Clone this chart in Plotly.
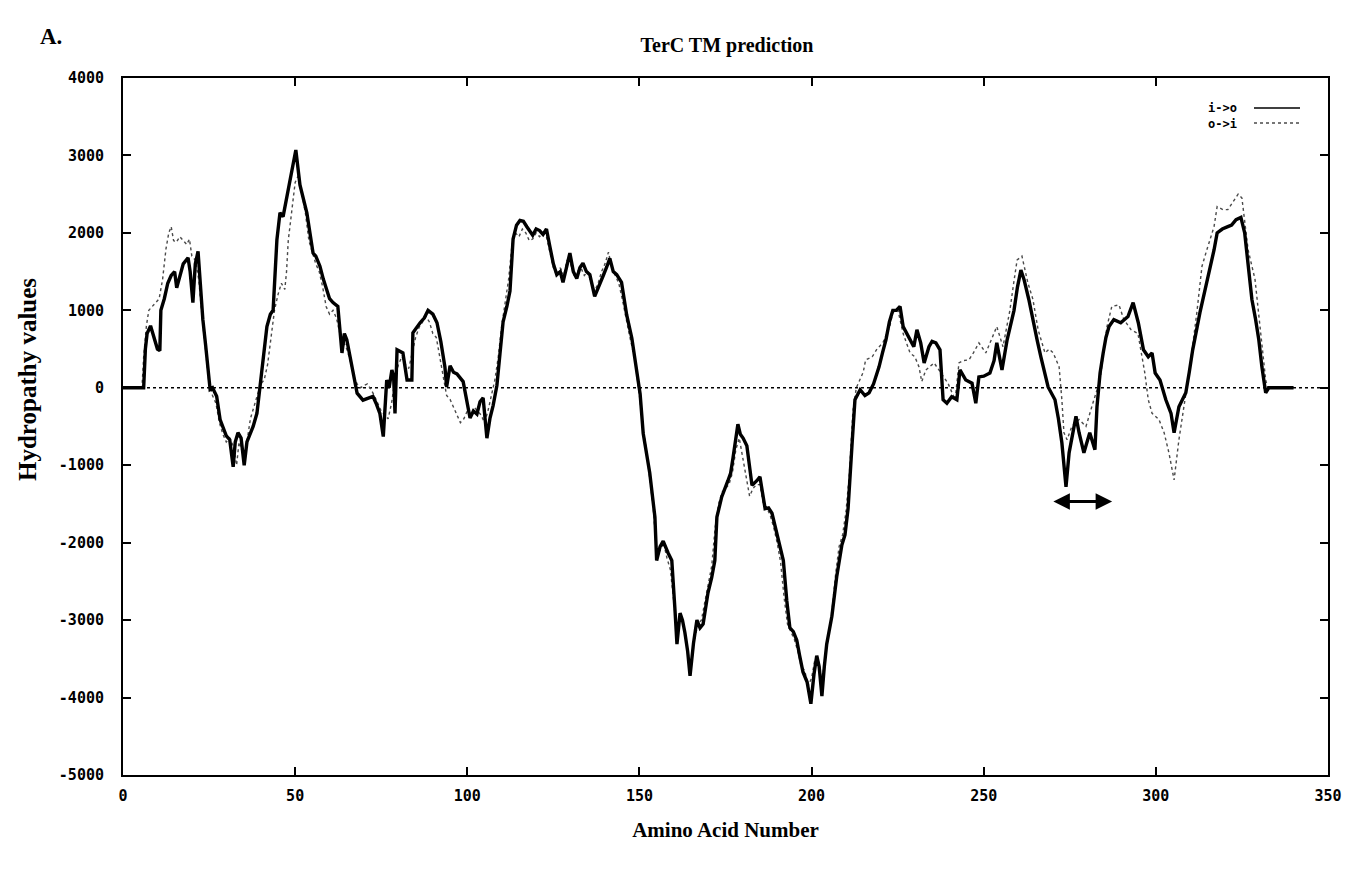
import plotly.graph_objects as go

# i->o (solid) : amino acid position, hydropathy value
io_aa = [0, 6, 6.5, 7, 8, 9, 10, 10.7, 11, 12, 13, 14, 15, 15.6, 16.5, 17.5, 18.9, 19.5, 20.3, 21, 21.8, 22.5, 23.2, 24, 24.7, 25.3, 26, 27.2, 28.2, 29, 30, 31, 32, 32.6, 33.4, 34.3, 35.2, 36, 37, 37.8, 38.9, 39.8, 40.8, 41.8, 42.8, 43.6, 44.7, 45.6, 46.5, 47.6, 48.5, 49.4, 50.2, 51.4, 52.4, 53.4, 54.3, 55.2, 56, 57.2, 58.2, 59.2, 60, 61, 62.4, 63.6, 64.3, 65, 65.9, 67, 68, 69.7, 71, 72.6, 73.5, 74.6, 75.6, 76.6, 77.3, 78.1, 78.6, 79, 79.6, 81.3, 82.5, 83.9, 84.2, 85.3, 86.3, 87.5, 88.6, 90, 91.2, 92.3, 93.5, 94, 95, 96, 97, 98.8, 100, 100.8, 101.8, 102.8, 103.7, 104.6, 105.7, 106.6, 107.5, 108.6, 109.5, 110.4, 111.5, 112.4, 113.3, 114.3, 115.3, 116.3, 117.3, 119, 120, 121, 122, 123, 124, 125, 126, 127, 127.8, 128.8, 129.8, 130.8, 131.8, 132.7, 133.6, 134.6, 135.6, 137, 138.5, 139.5, 140.5, 141.4, 142.4, 143.4, 144.8, 146.3, 147.8, 149.2, 150.2, 151.1, 152, 153, 154.5, 155, 156, 156.9, 158.3, 159.4, 160.3, 160.9, 161.8, 162.5, 163.2, 164, 164.7, 165.7, 166.7, 167.6, 168.5, 169.9, 171, 171.9, 172.5, 173.9, 175.7, 176.5, 177.2, 178.6, 179.3, 180.1, 181.2, 182.7, 184.1, 185, 186.5, 187.5, 188.5, 190.3, 191.8, 192.8, 193.7, 194.7, 195.7, 196.5, 197.5, 198.7, 199.8, 200.7, 201.5, 202.2, 203, 203.7, 204.4, 205.9, 207.3, 208.8, 209.7, 210.6, 211.2, 211.8, 212.6, 214.1, 215.5, 216.7, 218, 219.6, 220.6, 221.6, 222.6, 223.6, 224.6, 225.7, 226.6, 227.6, 228.6, 229.7, 230.6, 231.7, 232.7, 234.1, 235, 236.1, 237.3, 238.2, 239.3, 240.7, 242.2, 243.1, 244.8, 246.6, 247.7, 248.6, 250, 251.8, 253, 253.8, 255.3, 256.8, 258.8, 259.8, 260.8, 261.7, 263.1, 264.6, 265.6, 266.6, 267.7, 268.7, 270.7, 271.7, 272.7, 273.9, 274.8, 275.8, 276.8, 277.7, 279.1, 280.8, 282.3, 282.9, 283.8, 284.7, 285.5, 286.4, 287.8, 289.8, 291.9, 293.4, 294.9, 296.4, 297.8, 298.9, 299.8, 301.2, 302.9, 304.4, 305.3, 306.7, 308.7, 309.7, 310.7, 312.8, 314.8, 316.9, 317.8, 319.3, 320.9, 322, 323.3, 324.7, 325.8, 326.8, 327.9, 328.9, 329.9, 330.8, 331.9, 332.8, 340]
io_val = [0, 0, 500, 700, 800, 650, 500, 480, 1000, 1150, 1350, 1450, 1500, 1290, 1450, 1600, 1680, 1500, 1100, 1600, 1760, 1300, 880, 550, 270, -20, 0, -110, -410, -500, -620, -670, -1020, -700, -580, -650, -1000, -700, -600, -500, -330, 0, 400, 790, 950, 1000, 1910, 2260, 2210, 2470, 2690, 2850, 3070, 2620, 2450, 2260, 2000, 1740, 1700, 1570, 1400, 1270, 1150, 1100, 1050, 450, 700, 620, 400, 150, -70, -160, -140, -110, -200, -330, -630, 100, 0, 230, 150, -330, 490, 450, 100, 100, 710, 780, 840, 900, 1000, 950, 840, 600, 270, 10, 285, 200, 180, 80, -230, -390, -300, -340, -180, -130, -650, -390, -230, 30, 440, 850, 1050, 1250, 1920, 2100, 2160, 2150, 2080, 1970, 2050, 2030, 1980, 2050, 1820, 1600, 1460, 1500, 1360, 1550, 1740, 1500, 1410, 1550, 1610, 1500, 1460, 1180, 1360, 1450, 1560, 1670, 1500, 1460, 1360, 940, 640, 230, -80, -590, -850, -1100, -1670, -2230, -2050, -1980, -2130, -2230, -2850, -3310, -2910, -3000, -3160, -3400, -3720, -3300, -3000, -3100, -3050, -2650, -2450, -2230, -1670, -1410, -1200, -1100, -900, -470, -600, -650, -750, -1260, -1200, -1150, -1560, -1550, -1620, -1930, -2230, -2750, -3100, -3150, -3260, -3450, -3670, -3800, -4080, -3700, -3460, -3600, -3980, -3600, -3310, -2950, -2440, -2030, -1900, -1560, -1200, -700, -155, -25, -100, -65, 50, 270, 450, 620, 850, 1000, 1000, 1050, 790, 700, 620, 530, 750, 580, 320, 530, 600, 580, 490, -155, -200, -115, -155, 230, 100, 60, -200, 140, 150, 190, 350, 580, 230, 620, 1000, 1300, 1520, 1400, 1140, 790, 600, 400, 200, 10, -155, -400, -710, -1280, -840, -600, -370, -580, -840, -580, -800, -245, 190, 450, 650, 790, 880, 840, 920, 1100, 840, 490, 400, 450, 190, 100, -155, -330, -580, -245, -65, 200, 490, 970, 1360, 1780, 2000, 2050, 2080, 2100, 2170, 2200, 2000, 1570, 1140, 900, 620, 270, -65, 0, 0]

# o->i (dotted) : amino acid position, hydropathy value
oi_aa = [0, 5.5, 6, 6.8, 7.5, 8.5, 9.5, 10.5, 11.5, 12.5, 13.3, 14, 14.7, 15.5, 16.5, 17.5, 18.5, 19.3, 20, 21, 22, 23, 24, 25, 26, 27, 28, 29, 30, 31, 32, 33, 33.7, 34.5, 35.4, 36, 37, 38, 39, 40, 41, 42, 43, 44, 45, 46, 47, 47.5, 48, 49, 50, 51, 52, 53, 54, 55, 56, 57, 58, 59, 60, 61, 62, 63, 64, 65, 66, 67, 68, 69, 70, 71, 72, 73, 74, 75, 76, 77, 78, 79, 80, 81, 82, 83, 84, 85, 86, 87, 88, 89, 90, 91, 92, 93, 94, 95, 96, 97, 98, 99, 100, 101, 102, 103, 104, 105, 106, 107, 108, 109, 110, 111, 112, 113, 114, 115, 116, 117, 118, 119, 120, 121, 122, 123, 124, 125, 126, 127, 128, 129, 130, 131, 132, 133, 134, 135, 136, 137, 138, 139, 140, 141, 142, 143, 144, 145, 146, 147, 148, 149, 150, 151, 152, 153, 154, 155, 156, 157, 158, 159, 160, 161, 162, 163, 164, 165, 166, 167, 168, 169, 170, 171, 172, 173, 174, 175, 176, 177, 178, 179, 180, 181, 182, 183, 184, 185, 186, 187, 188, 189, 190, 191, 192, 193, 194, 195, 196, 197, 198, 199, 200, 201, 202, 203, 204, 205, 206, 207, 208, 209, 210, 211, 212, 213, 214, 215, 215.7, 217.6, 219, 220.7, 222.7, 223.6, 225.1, 226.6, 228.6, 230, 231.2, 232, 233.2, 235.6, 237.6, 239.6, 241.7, 242.8, 244, 245.7, 247, 248.6, 250.6, 252, 253.8, 255.6, 257.6, 258.7, 259.7, 261.1, 262.8, 264.3, 265.8, 267.8, 269, 270.2, 271.9, 272.7, 273.3, 274.2, 275.6, 277.7, 279.7, 281.7, 283.8, 284.8, 285.8, 287.2, 289.3, 290.7, 292.8, 294.8, 296, 296.8, 297.8, 298.9, 300.9, 302.4, 303.8, 305.3, 306.7, 307.9, 309.9, 311.9, 313.4, 314.8, 316.9, 317.8, 319.5, 320.9, 322.5, 323.9, 325, 325.8, 326.8, 328.8, 330, 330.8, 331.9, 332.5, 340]
oi_val = [0, 0, 400, 800, 1000, 1050, 1100, 1150, 1400, 1800, 2000, 2080, 1900, 1880, 1950, 1900, 1850, 1920, 1700, 1650, 1400, 900, 450, 50, -100, -200, -450, -600, -700, -650, -750, -1000, -700, -800, -930, -700, -400, -250, -100, 50, 100, 300, 650, 1000, 1200, 1350, 1270, 1500, 1900, 2300, 2650, 2750, 2500, 2250, 1900, 1750, 1600, 1500, 1300, 1050, 950, 1000, 900, 700, 600, 500, 350, 150, 50, 0, 30, 50, -20, -100, -200, -300, -350, -400, -200, 100, 300, 400, 300, 250, 450, 650, 780, 850, 920, 850, 700, 650, 400, 100, -100, -150, -250, -350, -450, -400, -300, -350, -250, -300, -350, -450, -300, -100, 100, 400, 800, 1100, 1400, 1850, 2000, 1950, 2050, 2000, 1900, 1920, 2000, 1950, 2000, 1950, 1750, 1550, 1450, 1550, 1450, 1650, 1600, 1450, 1500, 1550, 1450, 1500, 1350, 1250, 1350, 1500, 1600, 1750, 1550, 1450, 1350, 1150, 900, 700, 500, 250, -100, -500, -800, -1150, -1550, -2150, -2100, -2000, -2200, -2350, -2800, -3200, -2950, -3100, -3400, -3600, -3250, -3050, -3000, -2750, -2550, -2300, -1800, -1500, -1350, -1300, -1250, -1100, -800, -650, -900, -1200, -1400, -1300, -1250, -1250, -1500, -1550, -1650, -1800, -2000, -2250, -2700, -3050, -3150, -3250, -3400, -3600, -3650, -3850, -3750, -3500, -3500, -3800, -3450, -3150, -2850, -2400, -2050, -1900, -1600, -1100, -300, 0, 100, 200, 360, 400, 500, 580, 790, 970, 1000, 700, 450, 400, 270, 80, 230, 320, 190, 60, -155, 320, 350, 360, 450, 580, 450, 600, 790, 530, 1000, 1350, 1650, 1700, 1360, 1140, 750, 450, 500, 450, 270, -155, -580, -670, -500, -410, -500, -200, 100, 450, 790, 1050, 1070, 880, 750, 700, 400, 190, -155, -330, -410, -580, -840, -1190, -670, -330, 270, 970, 1570, 1780, 2080, 2340, 2300, 2300, 2400, 2500, 2450, 2130, 1780, 1400, 900, 580, 100, 0, 0]

x_ticks = [0, 50, 100, 150, 200, 250, 300, 350]
y_ticks = [4000, 3000, 2000, 1000, 0, -1000, -2000, -3000, -4000, -5000]
y_tick_text = ["4000", "3000", "2000", "1000", "0", "-1000", "-2000", "-3000", "-4000", "-5000"]
legend_labels = ["i->o", "o->i"]

arrow_span = [269.8, 287.3]
arrow_level = -1470

serif = "Liberation Serif"
mono = "DejaVu Sans Mono"

W, H = 1354, 869
L, R, T, B = 123, 26, 78, 94
PW, PH = W - L - R, H - T - B


def px(xp):
    return (xp - L) / PW


def py(yp):
    return (H - B - yp) / PH


fig = go.Figure()
fig.add_trace(go.Scatter(x=oi_aa, y=oi_val, mode="lines", name=legend_labels[1],
                         line=dict(color="#4a4a4a", width=1.4, dash="dot"), showlegend=False))
fig.add_trace(go.Scatter(x=io_aa, y=io_val, mode="lines", name=legend_labels[0],
                         line=dict(color="black", width=3.4), showlegend=False))

fig.add_hline(y=0, line=dict(color="black", width=1.6, dash="dot"), layer="below")

# double-headed arrow
fig.add_annotation(x=arrow_span[1], y=arrow_level, ax=arrow_span[0], ay=arrow_level,
                   xref="x", yref="y", axref="x", ayref="y", text="",
                   showarrow=True, arrowhead=2, startarrowhead=2, arrowside="end+start",
                   arrowwidth=3, arrowsize=1.1, startarrowsize=1.1, arrowcolor="black")

# legend drawn as text (left) + line samples (right), as in the original
fig.add_annotation(x=px(1239), y=py(115.5), xref="paper", yref="paper",
                   text="<br>".join("<b>" + s + "</b>" for s in legend_labels),
                   showarrow=False, xanchor="right", yanchor="middle", align="right",
                   font=dict(family=mono, size=12, color="black"))
legend_lines = [(dict(color="black", width=1.6, dash="solid"), 108),
                (dict(color="#4a4a4a", width=1.4, dash="dot"), 123)]
for ln, ypix in legend_lines:
    fig.add_shape(type="line", xref="paper", yref="paper", x0=px(1254), x1=px(1300),
                  y0=py(ypix), y1=py(ypix), line=ln)

# panel label
fig.add_annotation(x=px(38), y=py(37), xref="paper", yref="paper", text="<b>A.</b>",
                   showarrow=False, xanchor="left", yanchor="middle",
                   font=dict(family=serif, size=23, color="black"))

# y-axis title (placed as in the original, slightly above plot centre)
fig.add_annotation(x=px(28), y=py(380), xref="paper", yref="paper", text="<b>Hydropathy values</b>",
                   showarrow=False, textangle=-90, xanchor="center", yanchor="middle",
                   font=dict(family=serif, size=25, color="black"))

fig.update_layout(
    width=W, height=H,
    margin=dict(l=L, r=R, t=T, b=B),
    paper_bgcolor="white", plot_bgcolor="white",
    title=dict(text="<b>TerC TM prediction</b>", x=727 / W, xanchor="center",
               y=1 - 45 / H, yanchor="middle", yref="container",
               font=dict(family=serif, size=20, color="black")),
    xaxis=dict(range=[0, 350], tickvals=x_ticks, ticks="inside", ticklen=8, tickwidth=1.6,
               tickcolor="black", showline=True, linecolor="black", linewidth=2, mirror="allticks",
               showgrid=False, zeroline=False, ticklabelstandoff=6,
               tickfont=dict(family=mono, size=15, color="black", weight="bold"),
               title=dict(text="<b>Amino Acid Number</b>", standoff=18,
                          font=dict(family=serif, size=21, color="black"))),
    yaxis=dict(range=[-5000, 4000], tickvals=y_ticks, ticktext=y_tick_text, ticks="inside",
               ticklen=8, tickwidth=1.6, tickcolor="black", showline=True, linecolor="black",
               linewidth=2, mirror="allticks", showgrid=False, zeroline=False, ticklabelstandoff=14,
               tickfont=dict(family=mono, size=15, color="black", weight="bold")),
)

fig.write_html("out.html")
